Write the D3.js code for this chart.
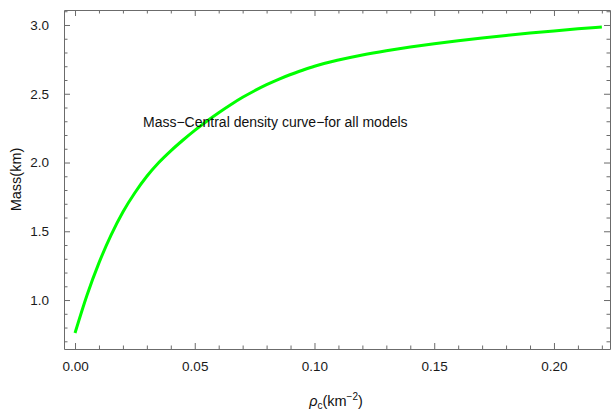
<!DOCTYPE html>
<html>
<head>
<meta charset="utf-8">
<script src="https://cdn.jsdelivr.net/npm/d3@7"></script>
<style>
  html, body { margin: 0; padding: 0; background: #fff; }
  svg { display: block; }
  text { font-family: "Liberation Sans", Arial, sans-serif; }
</style>
</head>
<body>
<svg id="chart" width="613" height="413"></svg>
<script>
// Central density (km^-2) and corresponding mass (km)
const rhoC = [0, 0.005, 0.01, 0.015, 0.02, 0.025, 0.03, 0.035, 0.04, 0.045, 0.05,
              0.055, 0.06, 0.065, 0.07, 0.075, 0.08, 0.085, 0.09, 0.095, 0.10,
              0.11, 0.12, 0.13, 0.14, 0.15, 0.16, 0.17, 0.18, 0.19, 0.20, 0.21, 0.22];
const mass = [0.76, 1.035, 1.27, 1.47, 1.64, 1.78, 1.90, 2.00, 2.085, 2.162, 2.234,
              2.30, 2.362, 2.42, 2.474, 2.522, 2.566, 2.605, 2.64, 2.671, 2.70,
              2.745, 2.782, 2.813, 2.84, 2.864, 2.886, 2.906, 2.924, 2.941, 2.957, 2.972, 2.986];

const xTicks = [0.00, 0.05, 0.10, 0.15, 0.20];
const yTicks = [1.0, 1.5, 2.0, 2.5, 3.0];
const xMinor = d3.range(0, 23).map(i => i / 100).filter(v => !xTicks.some(t => Math.abs(t - v) < 1e-9));
const yMinor = d3.range(7, 32).map(i => i / 10).filter(v => !yTicks.some(t => Math.abs(t - v) < 1e-9));

const plotLabel = "Mass\u2212Central density curve\u2212for all models";

const svg = d3.select("#chart");
const frameL = 64, frameR = 610, frameT = 10, frameB = 349;

const x = d3.scaleLinear().domain([-0.0046, 0.2234]).range([frameL, frameR]);
const y = d3.scaleLinear().domain([0.644, 3.109]).range([frameB, frameT]);

const frameColor = "#6b6b6b";
const majorLen = 6, minorLen = 3.5;

function styleAxis(g) {
  g.selectAll(".domain").attr("stroke", frameColor).attr("stroke-width", 1);
  g.selectAll(".tick line").attr("stroke", frameColor).attr("stroke-width", 1);
  g.selectAll(".tick text").attr("fill", "#1a1a1a").style("font-size", "13.5px")
    .style("font-family", "'Liberation Sans', Arial, sans-serif");
}

// Bottom axis with labels
svg.append("g").attr("transform", `translate(0,${frameB})`)
  .call(d3.axisBottom(x).tickValues(xTicks).tickFormat(d3.format(".2f"))
    .tickSizeInner(-majorLen).tickSizeOuter(0).tickPadding(12))
  .call(styleAxis);
svg.append("g").attr("transform", `translate(0,${frameB})`)
  .call(d3.axisBottom(x).tickValues(xMinor).tickFormat("").tickSizeInner(-minorLen).tickSizeOuter(0))
  .call(g => g.select(".domain").remove()).call(styleAxis);

// Top axis (ticks only)
svg.append("g").attr("transform", `translate(0,${frameT})`)
  .call(d3.axisTop(x).tickValues(xTicks).tickFormat("").tickSizeInner(-majorLen).tickSizeOuter(0))
  .call(styleAxis);
svg.append("g").attr("transform", `translate(0,${frameT})`)
  .call(d3.axisTop(x).tickValues(xMinor).tickFormat("").tickSizeInner(-minorLen).tickSizeOuter(0))
  .call(g => g.select(".domain").remove()).call(styleAxis);

// Left axis with labels
svg.append("g").attr("transform", `translate(${frameL},0)`)
  .call(d3.axisLeft(y).tickValues(yTicks).tickFormat(d3.format(".1f"))
    .tickSizeInner(-majorLen).tickSizeOuter(0).tickPadding(15))
  .call(styleAxis);
svg.append("g").attr("transform", `translate(${frameL},0)`)
  .call(d3.axisLeft(y).tickValues(yMinor).tickFormat("").tickSizeInner(-minorLen).tickSizeOuter(0))
  .call(g => g.select(".domain").remove()).call(styleAxis);

// Right axis (ticks only)
svg.append("g").attr("transform", `translate(${frameR},0)`)
  .call(d3.axisRight(y).tickValues(yTicks).tickFormat("").tickSizeInner(-majorLen).tickSizeOuter(0))
  .call(styleAxis);
svg.append("g").attr("transform", `translate(${frameR},0)`)
  .call(d3.axisRight(y).tickValues(yMinor).tickFormat("").tickSizeInner(-minorLen).tickSizeOuter(0))
  .call(g => g.select(".domain").remove()).call(styleAxis);

// Mass curve
const line = d3.line().x((d, i) => x(rhoC[i])).y(d => y(d)).curve(d3.curveMonotoneX);
svg.append("path").datum(mass)
  .attr("d", line)
  .attr("fill", "none")
  .attr("stroke", "#00ff00")
  .attr("stroke-width", 3)
  .attr("stroke-linejoin", "round");

// In-plot label
svg.append("text")
  .attr("x", 143).attr("y", 127)
  .attr("fill", "#111")
  .style("font-size", "14px")
  .text(plotLabel);

// Axis titles
svg.append("text")
  .attr("transform", `translate(21,${(frameT + frameB) / 2}) rotate(-90)`)
  .attr("text-anchor", "middle")
  .attr("fill", "#111")
  .style("font-size", "14.5px")
  .text("Mass(km)");

const xt = svg.append("text")
  .attr("x", 336).attr("y", 406)
  .attr("text-anchor", "middle")
  .attr("fill", "#111")
  .style("font-size", "14.5px");
xt.append("tspan").style("font-style", "italic").text("\u03C1");
xt.append("tspan").attr("dy", 3).style("font-size", "10px").text("c");
xt.append("tspan").attr("dy", -3).text("(km");
xt.append("tspan").attr("dy", -6).style("font-size", "10px").text("\u22122");
xt.append("tspan").attr("dy", 6).text(")");
</script>
</body>
</html>
